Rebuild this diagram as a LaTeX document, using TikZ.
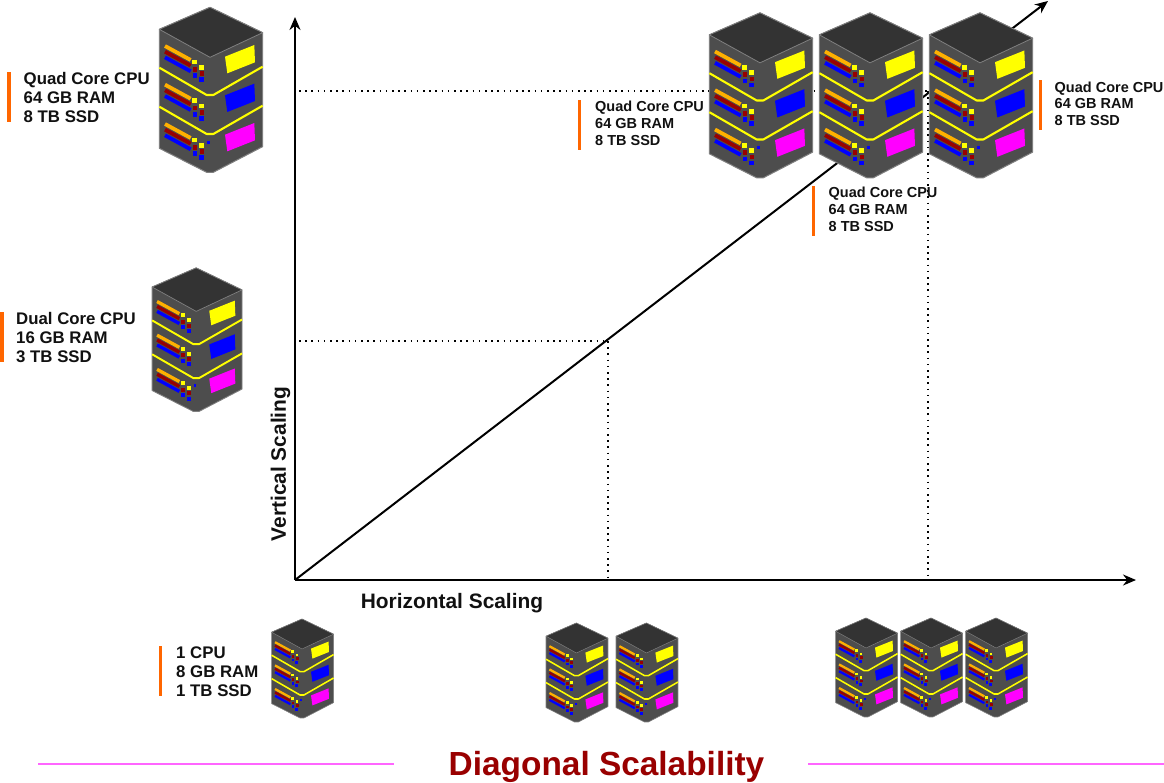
\documentclass[tikz,border=0pt]{standalone}
\usepackage{fontspec}
\setmainfont{Liberation Sans}
\usetikzlibrary{arrows.meta}
\definecolor{bodyc}{HTML}{4D4D4D}
\definecolor{topc}{HTML}{333333}
\definecolor{edgec}{HTML}{808080}
\definecolor{barc}{HTML}{FF6600}
\definecolor{orangec}{HTML}{FFB000}
\definecolor{redc}{HTML}{990000}
\definecolor{bluec}{HTML}{0000FF}
\definecolor{yellowc}{HTML}{FFFF00}
\definecolor{magentac}{HTML}{FF00FF}
\definecolor{linkc}{HTML}{FF66FF}
\definecolor{titlec}{HTML}{990000}
\definecolor{txtc}{HTML}{111111}
\tikzset{
  axisline/.style={line width=2pt,-{Stealth[length=13pt,width=11pt]}},
  guide/.style={line width=1.6pt,dash pattern=on 1.6pt off 4.6pt},
  sidebar/.style={line width=3.8pt,barc},
  bigtext/.style={font=\bfseries\fontsize{16.8}{19}\selectfont,align=left,anchor=west,inner sep=0pt,text=txtc},
  smalltext/.style={font=\bfseries\fontsize{14.5}{16.8}\selectfont,align=left,anchor=west,inner sep=0pt,text=txtc},
  axistext/.style={font=\bfseries\fontsize{20.9}{24}\selectfont,inner sep=0pt,text=txtc},
  rulepink/.style={line width=1.2pt,linkc},
}
\newcommand{\deck}[3]{%
  \begin{scope}[shift={(0,#1)}]
    \draw[orangec,line width=#3*3.8pt] (45,-138)--(122,-180);
    \draw[redc,line width=#3*3.8pt] (45,-155)--(122,-197);
    \draw[bluec,line width=#3*3.8pt] (45,-172)--(122,-214);
    \foreach \px/\py/\pc in {134/186/yellowc,155/202/yellowc,135/208/redc,156/221/redc,135/227/bluec,154/239/bluec}
      \fill[\pc] (\px-7,-\py+7) rectangle (\px+7,-\py-7);
    \fill[#2] (225,-170)--(313,-135)--(315,-187)--(232,-220)--cycle;
  \end{scope}}
\newcommand{\drawserver}[3]{%
  \begin{scope}[shift={(#1,#2)},x=#3*0.3333pt,y=#3*0.3333pt]
    \fill[bodyc,draw=edgec,line width=#3*1pt,line join=round] (28,-88)--(28,-445)--(170,-517)--(190,-517)--(338,-440)--(338,-98)--(180,-22)--cycle;
    \fill[topc,draw=edgec,line width=#3*0.8pt,line join=round] (28,-88)--(180,-22)--(338,-98)--(180,-172)--cycle;
    \deck{0}{yellowc}{#3}
    \deck{-116}{bluec}{#3}
    \deck{-234}{magentac}{#3}
    \fill[bluec] (172,-423) rectangle (181,-432);
    \draw[yellowc,line width=0.7pt+#3*1.4pt,line join=round] (28,-203)--(170,-285)--(190,-285)--(338,-200);
    \draw[yellowc,line width=0.7pt+#3*1.4pt,line join=round] (28,-320)--(170,-402)--(190,-402)--(338,-317);
  \end{scope}}
\begin{document}
\begin{tikzpicture}[x=1pt,y=-1pt]
\useasboundingbox (0,0) rectangle (1164,782);
\fill[white] (0,0) rectangle (1164,782);
% axes
\coordinate (O) at (295,580);
\coordinate (Ytip) at (295,17);
\coordinate (Xtip) at (1136,580);
\coordinate (Dtip) at (1048,1);
\coordinate (Gy1) at (299,91);
\coordinate (Gx1) at (930,91);
\coordinate (Gy2) at (299,341);
\coordinate (Gx2) at (608,341);
\coordinate (Gb2) at (608,580);
\coordinate (Gt1) at (928,91);
\coordinate (Gb1) at (928,580);
\draw[axisline] (O)--(Ytip);
\draw[axisline] (O)--(Xtip);
\draw[axisline] (O)--(Dtip);
\draw[guide] (Gy1)--(Gx1);
\draw[guide] (Gy2)--(Gx2);
\draw[guide] (Gx2)--(Gb2);
\draw[guide] (Gt1)--(Gb1);
% servers
\drawserver{150}{0}{1}
\drawserver{144}{261.5}{0.87}
\drawserver{700}{5.5}{1}
\drawserver{810}{5.5}{1}
\drawserver{920}{5.5}{1}
\drawserver{266}{614.6}{0.6}
\drawserver{540.4}{618.6}{0.6}
\drawserver{610.4}{618.6}{0.6}
\drawserver{830}{613.6}{0.6}
\drawserver{895}{613.6}{0.6}
\drawserver{960}{613.6}{0.6}
% side bars
\coordinate (B1a) at (9,72); \coordinate (B1b) at (9,122);
\coordinate (B2a) at (2,312); \coordinate (B2b) at (2,362);
\coordinate (B3a) at (160.5,646); \coordinate (B3b) at (160.5,696);
\coordinate (B4a) at (579.5,100); \coordinate (B4b) at (579.5,150);
\coordinate (B5a) at (813.5,186); \coordinate (B5b) at (813.5,236);
\coordinate (B6a) at (1040.5,80); \coordinate (B6b) at (1040.5,130);
\draw[sidebar] (B1a)--(B1b);
\draw[sidebar] (B2a)--(B2b);
\draw[sidebar] (B3a)--(B3b);
\draw[sidebar] (B4a)--(B4b);
\draw[sidebar] (B5a)--(B5b);
\draw[sidebar] (B6a)--(B6b);
% labels
\node[bigtext] (t1) at (23.5,97.6) {Quad Core CPU\\64 GB RAM\\8 TB SSD};
\node[bigtext] (t2) at (16,337.6) {Dual Core CPU\\16 GB RAM\\3 TB SSD};
\node[bigtext] (t3) at (176,671.6) {1 CPU\\8 GB RAM\\1 TB SSD};
\node[smalltext] (t4) at (595,123.3) {Quad Core CPU\\64 GB RAM\\8 TB SSD};
\node[smalltext] (t5) at (828.5,209.3) {Quad Core CPU\\64 GB RAM\\8 TB SSD};
\node[smalltext] (t6) at (1054.5,103.8) {Quad Core CPU\\64 GB RAM\\8 TB SSD};
\node[axistext,rotate=90] (vs) at (280.5,464) {Vertical Scaling};
\node[axistext] (hs) at (452,603) {Horizontal Scaling};
\node[font=\bfseries\fontsize{33.4}{38}\selectfont,text=titlec,inner sep=0pt] (title) at (606.5,766.5) {Diagonal Scalability};
\coordinate (R1a) at (38,764); \coordinate (R1b) at (394,764);
\coordinate (R2a) at (808,764); \coordinate (R2b) at (1164,764);
\draw[rulepink] (R1a)--(R1b);
\draw[rulepink] (R2a)--(R2b);
\end{tikzpicture}
\end{document}
